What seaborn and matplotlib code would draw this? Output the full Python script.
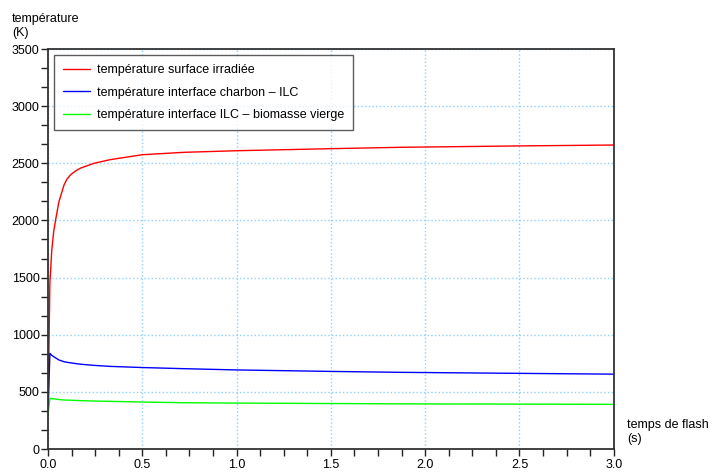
import matplotlib
matplotlib.use('Agg')
import matplotlib.pyplot as plt
import seaborn as sns
from matplotlib.ticker import AutoMinorLocator, MultipleLocator, FormatStrFormatter

# temps (s) et températures (K)
TEMPS = [0.0, 0.01, 0.02, 0.03, 0.041, 0.058, 0.085, 0.1, 0.12, 0.145, 0.173, 0.244,
         0.33, 0.5, 0.72, 1.0, 1.5, 1.87, 2.5, 3.0]
T_SURFACE = [300, 1450, 1740, 1900, 2010, 2164, 2310, 2360, 2400, 2432, 2458, 2500,
             2532, 2575, 2596, 2610, 2628, 2640, 2652, 2660]
T_CHARBON_ILC = [300, 837, 820, 808, 797, 779, 764, 759, 754, 748, 742, 732,
                 723, 713, 703, 692, 679, 671, 662, 655]
T_ILC_BIOMASSE = [300, 443, 441, 439, 437, 433, 429, 428, 427, 425, 423, 420,
                  417, 411, 405, 402, 398, 395, 393, 391]

LABELS = ['température surface irradiée',
          'température interface charbon – ILC',
          'température interface ILC – biomasse vierge']
COLORS = ['#ff0000', '#0000ff', '#00ff00']

sns.set_style('white')
plt.rcParams['font.family'] = ['Liberation Sans', 'DejaVu Sans']
plt.rcParams['text.color'] = 'black'
plt.rcParams['xtick.color'] = 'black'
plt.rcParams['ytick.color'] = 'black'

fig = plt.figure(figsize=(7.12, 4.74), dpi=100)
ax = fig.add_axes([0.0674, 0.0527, 0.7946, 0.8439])

for y, lab, col in zip([T_SURFACE, T_CHARBON_ILC, T_ILC_BIOMASSE], LABELS, COLORS):
    sns.lineplot(x=TEMPS, y=y, ax=ax, color=col, linewidth=1.0, label=lab)

ax.set_xlim(0, 3)
ax.set_ylim(0, 3500)
ax.xaxis.set_major_locator(MultipleLocator(0.5))
ax.yaxis.set_major_locator(MultipleLocator(500))
ax.xaxis.set_minor_locator(AutoMinorLocator(4))
ax.yaxis.set_minor_locator(AutoMinorLocator(3))
ax.xaxis.set_major_formatter(FormatStrFormatter('%.1f'))

ax.grid(True, which='major', color='#8fd0ff', linestyle=':', linewidth=1.0)
ax.set_axisbelow(True)
for s in ax.spines.values():
    s.set_color('#333333')
    s.set_linewidth(1.3)
ax.tick_params(which='both', direction='out', length=5, width=1, color='#222222',
               labelsize=9, bottom=True, left=True)
ax.tick_params(axis='x', pad=2)
ax.tick_params(axis='y', pad=1)

fig.text(12 / 712, 1 - 13 / 474, 'température\n(K)', fontsize=9, va='top', ha='left',
         linespacing=1.2)
fig.text(627 / 712, 1 - 419 / 474, 'temps de flash\n(s)', fontsize=9, va='top', ha='left',
         linespacing=1.2)

leg = ax.legend(loc='upper left', fontsize=9, frameon=True, fancybox=False,
                borderaxespad=0.5, handlelength=2.2, handletextpad=0.5,
                labelspacing=0.85, borderpad=0.7)
leg.get_frame().set_edgecolor('#333333')
leg.get_frame().set_linewidth(1.0)

fig.savefig('out.png', dpi=100)
